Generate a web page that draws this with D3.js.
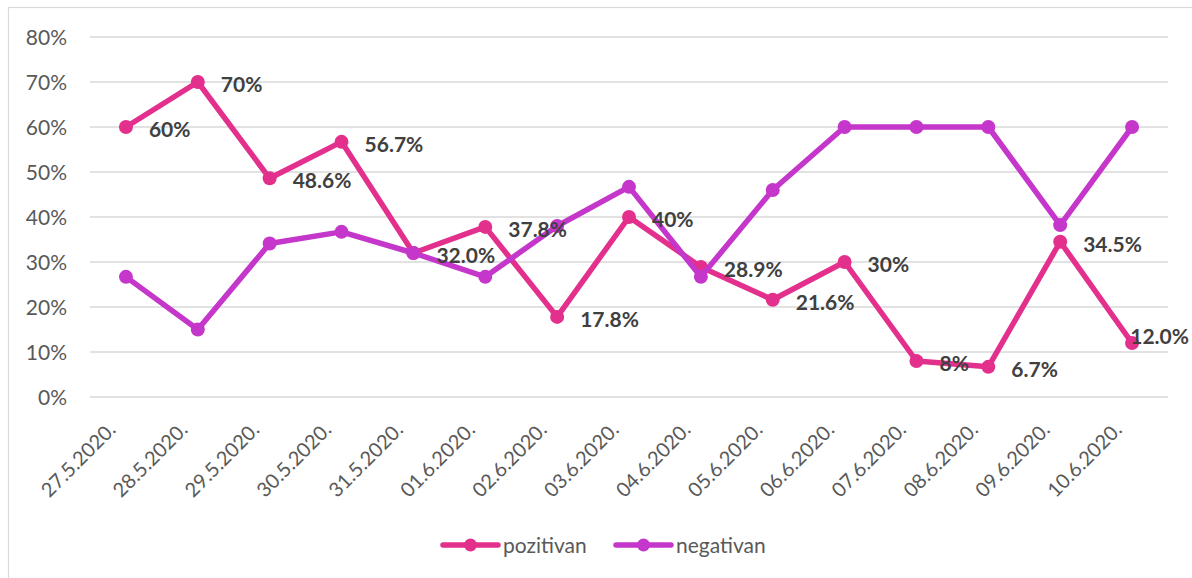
<!DOCTYPE html>
<html>
<head>
<meta charset="utf-8">
<script src="https://cdn.jsdelivr.net/npm/d3@7"></script>
<style>
  html, body { margin: 0; padding: 0; background: #ffffff; }
  svg { display: block; font-family: Lato, "Open Sans", sans-serif; }
</style>
</head>
<body>
<svg id="chart" width="1192" height="578"></svg>
<script>
const categories = ["27.5.2020.", "28.5.2020.", "29.5.2020.", "30.5.2020.", "31.5.2020.",
  "01.6.2020.", "02.6.2020.", "03.6.2020.", "04.6.2020.", "05.6.2020.",
  "06.6.2020.", "07.6.2020.", "08.6.2020.", "09.6.2020.", "10.6.2020."];
const pozitivan = [60, 70, 48.6, 56.7, 32.0, 37.8, 17.8, 40, 28.9, 21.6, 30, 8, 6.7, 34.5, 12.0];
const pozitivanLabels = ["60%", "70%", "48.6%", "56.7%", "32.0%", "37.8%", "17.8%", "40%",
  "28.9%", "21.6%", "30%", "8%", "6.7%", "34.5%", "12.0%"];
const negativan = [26.7, 15.0, 34.1, 36.7, 32.0, 26.7, 38.0, 46.7, 26.7, 46.0, 60, 60, 60, 38.2, 60];
const yTicks = [0, 10, 20, 30, 40, 50, 60, 70, 80];
const seriesNames = ["pozitivan", "negativan"];
const colors = ["#E3308D", "#C536CA"];

const svg = d3.select("#chart");
const plot = { left: 90, right: 1168, top: 37, bottom: 397 };

// chart border
svg.append("rect")
  .attr("x", 8.5).attr("y", 7.5)
  .attr("width", 1190).attr("height", 600)
  .attr("fill", "#fff").attr("stroke", "#D9D9D9").attr("stroke-width", 1.2);

const x = d3.scaleBand().domain(categories).range([plot.left, plot.right]);
const y = d3.scaleLinear().domain([0, 80]).range([plot.bottom, plot.top]);
const cx = c => x(c) + x.bandwidth() / 2;

// gridlines
svg.append("g").selectAll("line").data(yTicks).join("line")
  .attr("x1", plot.left).attr("x2", plot.right)
  .attr("y1", d => y(d)).attr("y2", d => y(d))
  .attr("stroke", "#D9D9D9").attr("stroke-width", 1.3);

// y axis labels
const yAxis = d3.axisLeft(y).tickValues(yTicks).tickFormat(d => d + "%").tickSize(0).tickPadding(0);
const yg = svg.append("g").attr("transform", `translate(67,0)`).call(yAxis);
yg.select(".domain").remove();
yg.selectAll("text").attr("fill", "#595959").attr("font-size", 21)
  .attr("font-family", "Lato, 'Open Sans', sans-serif").attr("dy", "0.36em");

// x axis labels
const xAxis = d3.axisBottom(x).tickSize(0).tickPadding(0);
const xg = svg.append("g").call(xAxis);
xg.select(".domain").remove();
xg.selectAll(".tick").attr("transform", null);
xg.selectAll(".tick text")
  .attr("fill", "#595959").attr("font-size", 20)
  .attr("font-family", "Lato, 'Open Sans', sans-serif")
  .attr("text-anchor", "end").attr("dy", null).attr("y", null)
  .attr("transform", d => `translate(${cx(d) - 9},${431}) rotate(-45)`);

const seriesData = [pozitivan, negativan];
const line = d3.line().x((d, i) => cx(categories[i])).y(d => y(d));

seriesData.forEach((vals, s) => {
  const g = svg.append("g");
  g.append("path").datum(vals).attr("d", line)
    .attr("fill", "none").attr("stroke", colors[s]).attr("stroke-width", 5.5)
    .attr("stroke-linejoin", "round").attr("stroke-linecap", "round");
  g.selectAll("circle").data(vals).join("circle")
    .attr("cx", (d, i) => cx(categories[i])).attr("cy", d => y(d))
    .attr("r", 7).attr("fill", colors[s]);
});

// data labels for pozitivan
const lg = svg.append("g");
pozitivan.forEach((v, i) => {
  const px = cx(categories[i]), py = y(v);
  const t = lg.append("text").text(pozitivanLabels[i])
    .attr("font-size", 21).attr("font-weight", "bold").attr("fill", "#404040")
    .attr("x", px + 23).attr("y", py + 10);
  const w = t.node().getComputedTextLength();
  if (px + 23 + w > 1189) {
    t.attr("x", 1189 - w).attr("y", py + 1);
  }
});

// legend
const legendItems = [{ name: seriesNames[0], x: 443 }, { name: seriesNames[1], x: 616 }];
legendItems.forEach((it, s) => {
  const g = svg.append("g").attr("transform", `translate(${it.x},545)`);
  g.append("line").attr("x1", 0).attr("x2", 55).attr("y1", 0).attr("y2", 0)
    .attr("stroke", colors[s]).attr("stroke-width", 5.5).attr("stroke-linecap", "round");
  g.append("circle").attr("cx", 27.5).attr("cy", 0).attr("r", 6.5).attr("fill", colors[s]);
  g.append("text").text(it.name).attr("x", 60).attr("y", 7.5)
    .attr("font-size", 21).attr("fill", "#595959");
});
</script>
</body>
</html>
